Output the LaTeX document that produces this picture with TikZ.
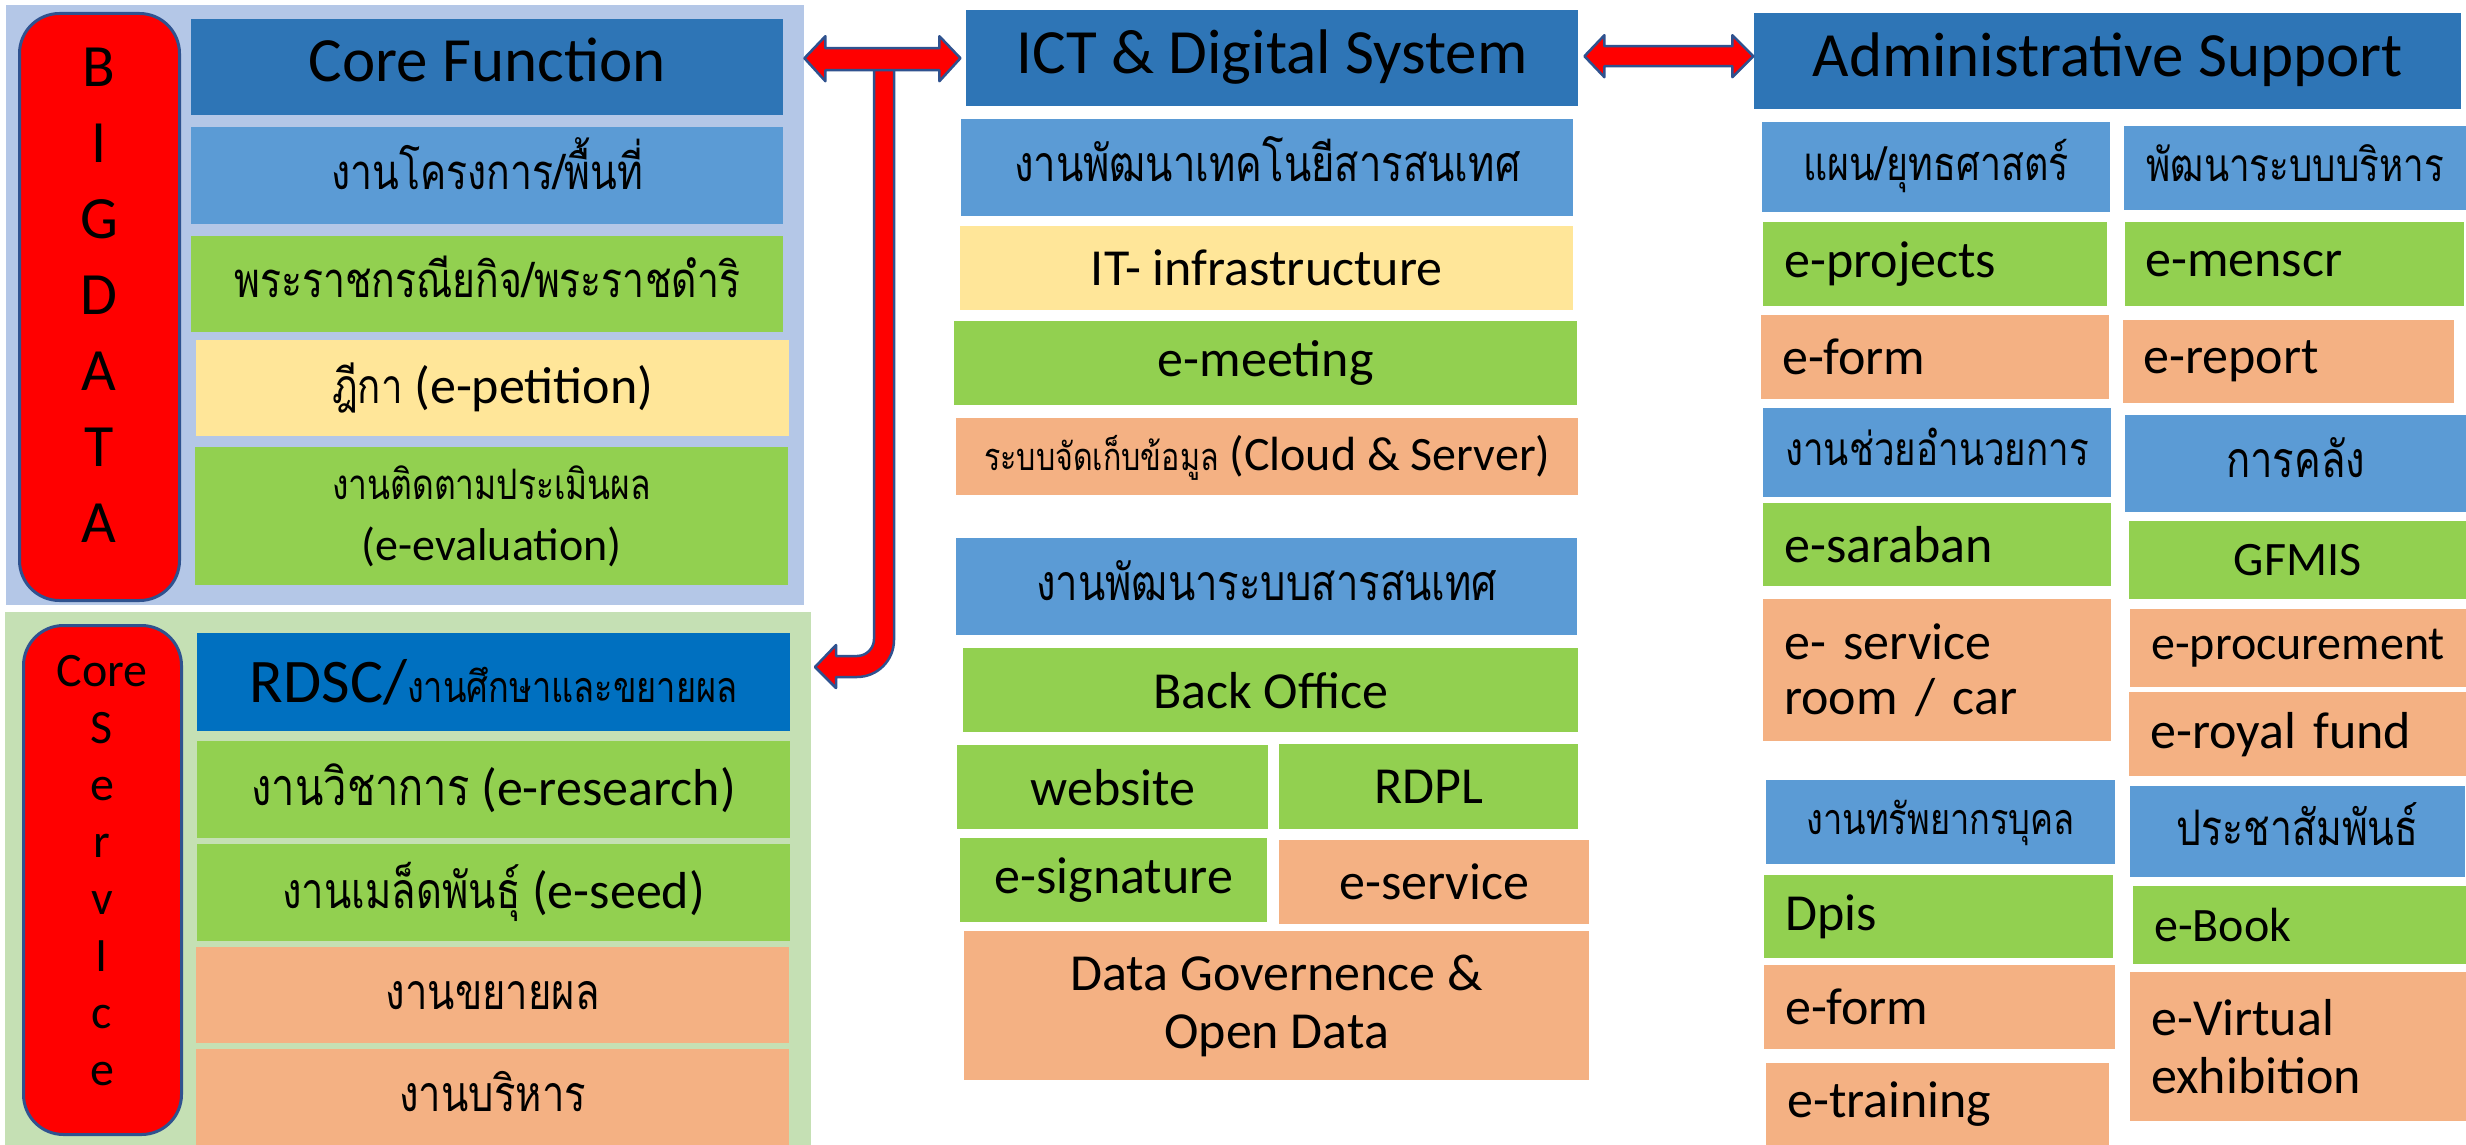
\documentclass[tikz,border=0pt]{standalone}
\usepackage{fontspec}
\setmainfont{Carlito}
\newfontfamily\thaifont[Script=Thai, FakeStretch=0.8]{Loma}
\usetikzlibrary{calc}

\definecolor{bgblue}{HTML}{B4C7E7}
\definecolor{bggreen}{HTML}{C5E0B4}
\definecolor{hdrblue}{HTML}{2E75B6}
\definecolor{subblue}{HTML}{5B9BD5}
\definecolor{rdscblue}{HTML}{0070C0}
\definecolor{cellgreen}{HTML}{92D050}
\definecolor{cellyellow}{HTML}{FFE699}
\definecolor{cellorange}{HTML}{F4B183}
\definecolor{edgeblue}{HTML}{2F528F}

% thai text, size in pt (= px here); marks do not count for centring
\newcommand{\thtxt}[2][50]{{\thaifont\fontsize{#1}{60}\selectfont\smash{#2}\vphantom{ก}}}

\tikzset{
  cell/.style={anchor=north west, inner sep=0pt, text=black, font=\fontsize{52}{60}\selectfont},
  panel/.style={anchor=north west, inner sep=0pt},
  hdr/.style={cell, fill=hdrblue, text depth=14pt, font=\fontsize{63}{75}\selectfont},
  sub/.style={cell, fill=subblue},
  grn/.style={cell, fill=cellgreen},
  ylw/.style={cell, fill=cellyellow},
  org/.style={cell, fill=cellorange},
  lft/.style={align=left, inner xsep=21pt},
  redbox/.style={panel, fill=red, draw=edgeblue, line width=3pt, rounded corners=40pt},
  blockarrow/.style={fill=red, draw=edgeblue, line width=2.5pt, line join=round},
}
\exhyphenpenalty=10000
\hyphenpenalty=10000

\begin{document}
\begin{tikzpicture}[x=1pt,y=-1pt]
  \useasboundingbox (0,0) rectangle (2466,1145);

  % left: core function
  \node[panel, fill=bgblue, minimum width=798, minimum height=600] (bgcore) at (6,5) {};
  \node[redbox, minimum width=160, minimum height=587] (bigdata) at (18,12) {};
  \node[font=\fontsize{60}{76}\selectfont, align=center] (bigdatatxt) at (99,295) {B\\I\\G\\D\\A\\T\\A};
  \node[hdr, minimum width=592, minimum height=96] (corefn) at (191,19) {Core Function};
  \node[sub, minimum width=592, minimum height=97] (proj) at (191,127) {\thtxt[49]{งานโครงการ/พื้นที่}};
  \node[grn, minimum width=592, minimum height=96] (royal) at (191,236) {\thtxt[49]{พระราชกรณียกิจ/พระราชดำริ}};
  \node[ylw, minimum width=593, minimum height=96] (petition) at (196,340) {\thtxt[48]{ฎีกา} (e-petition)};
  \node[grn, align=center, font=\fontsize{46}{61}\selectfont, minimum width=593, minimum height=138] (evalu) at (195,447)
    {{\thaifont\fontsize{42}{61}\selectfont งานติดตามประเมินผล}\\(e-evaluation)};

  % left: core service
  \node[panel, fill=bggreen, minimum width=806, minimum height=533] (bgserv) at (5,612) {};
  \node[redbox, minimum width=158, minimum height=509] (coreserv) at (22,624) {};
  \node[font=\fontsize{48}{57}\selectfont, align=center] (coreservtxt) at (102,871) {Core\\S\\e\\r\\v\\I\\c\\e};
  \node[cell, fill=rdscblue, minimum width=593, minimum height=98] (rdsc) at (197,633)
    {{\fontsize{62}{70}\selectfont RDSC/}\thtxt[43]{งานศึกษาและขยายผล}};
  \node[grn, minimum width=593, minimum height=97] (research) at (197,741) {\thtxt[52]{งานวิชาการ} (e-research)};
  \node[grn, minimum width=593, minimum height=97] (seed) at (197,844) {\thtxt{งานเมล็ดพันธุ์} (e-seed)};
  \node[org, minimum width=593, minimum height=96] (extend) at (196,947) {\thtxt{งานขยายผล}};
  \node[org, minimum width=593, minimum height=96] (manage) at (196,1049) {\thtxt{งานบริหาร}};

  % middle: ict
  \node[hdr, minimum width=612, minimum height=96] (ict) at (966,10) {ICT \& Digital System};
  \node[sub, minimum width=612, minimum height=97] (ittech) at (961,119) {\thtxt{งานพัฒนาเทคโนยีสารสนเทศ}};
  \node[ylw, minimum width=613, minimum height=84] (infra) at (960,226) {IT- infrastructure};
  \node[grn, minimum width=623, minimum height=84] (meet) at (954,321) {e-meeting};
  \node[org, minimum width=622, minimum height=77, font=\fontsize{48}{58}\selectfont] (cloud) at (956,418)
    {\thtxt[38]{ระบบจัดเก็บข้อมูล} (Cloud \& Server)};
  \node[sub, minimum width=621, minimum height=97] (infosys) at (956,538) {\thtxt{งานพัฒนาระบบสารสนเทศ}};
  \node[grn, minimum width=615, minimum height=84] (backoff) at (963,648) {Back Office};
  \node[grn, minimum width=311, minimum height=84] (web) at (957,745) {website};
  \node[grn, minimum width=299, minimum height=85] (rdpl) at (1279,744) {RDPL};
  \node[grn, minimum width=307, minimum height=84] (esig) at (960,838) {e-signature};
  \node[org, minimum width=310, minimum height=84] (eserv) at (1279,840) {e-service};
  \node[org, align=center, font=\fontsize{52}{58}\selectfont, minimum width=625, minimum height=149] (datagov) at (964,931)
    {Data Governence \&\\Open Data};

  % right: administrative support
  \node[hdr, minimum width=707, minimum height=96] (adm) at (1754,13) {Administrative Support};
  \node[sub, minimum width=348, minimum height=90] (plan) at (1762,122) {\thtxt[47]{แผน/ยุทธศาสตร์}};
  \node[grn, lft, text width=302pt, minimum height=84] (eproj) at (1763,222) {e-projects};
  \node[org, lft, text width=306pt, minimum height=84] (eform) at (1761,315) {e-form};
  \node[sub, minimum width=348, minimum height=89] (assist) at (1763,408) {\thtxt[46]{งานช่วยอำนวยการ}};
  \node[grn, lft, text width=306pt, minimum height=83] (sarab) at (1763,503) {e-saraban};
  \node[org, lft, text width=306pt, minimum height=142, font=\fontsize{52}{55}\selectfont] (roomcar) at (1763,599)
    {e- service\\room / car};
  \node[sub, minimum width=349, minimum height=84] (hr) at (1766,780) {\thtxt[43]{งานทรัพยากรบุคล}};
  \node[grn, lft, text width=307pt, minimum height=83] (dpis) at (1764,875) {Dpis};
  \node[org, lft, text width=309pt, minimum height=84] (eformb) at (1764,965) {e-form};
  \node[org, lft, text width=301pt, minimum height=82] (etrain) at (1766,1063) {e-training};

  \node[sub, minimum width=342, minimum height=84] (mgmt) at (2124,126) {\thtxt[46]{พัฒนาระบบบริหาร}};
  \node[grn, lft, text width=299pt, inner xsep=20pt, minimum height=84] (menscr) at (2125,222) {e-menscr};
  \node[org, lft, text width=291pt, inner xsep=20pt, minimum height=83] (report) at (2123,320) {e-report};
  \node[sub, minimum width=341, minimum height=97] (treas) at (2125,415) {\thtxt{การคลัง}};
  \node[grn, minimum width=337, minimum height=78, font=\fontsize{48}{58}\selectfont] (gfmis) at (2129,521) {GFMIS};
  \node[org, lft, text width=294pt, minimum height=78, font=\fontsize{48}{58}\selectfont] (procure) at (2130,609) {e-procurement};
  \node[org, lft, text width=295pt, minimum height=84] (rfund) at (2129,692) {e-royal fund};
  \node[sub, minimum width=335, minimum height=91] (pr) at (2130,786) {\thtxt[49]{ประชาสัมพันธ์}};
  \node[grn, lft, text width=291pt, minimum height=78, font=\fontsize{48}{58}\selectfont] (ebook) at (2133,886) {e-Book};
  \node[org, lft, text width=294pt, minimum height=149, font=\fontsize{52}{58}\selectfont] (virt) at (2130,972)
    {e-Virtual\\exhibition};

  % arrows
  \draw[blockarrow] (874,59) -- (874,639) arc[start angle=0, end angle=90, radius=17]
    -- (836,656) -- (836,645) -- (815,667) -- (836,688) -- (836,677) -- (857,677)
    arc[start angle=90, end angle=0, radius=37] -- (894,59) -- cycle;
  \draw[blockarrow] (bgcore.east |- ict.west) -- ++(21,-22) -- ++(0,12) -- ++(114,0) -- ++(0,-12) -- ++(21,22)
    -- ++(-21,23) -- ++(0,-11) -- ++(-114,0) -- ++(0,11) -- cycle;
  \draw[blockarrow] ([xshift=6pt,yshift=2pt]ict.east) -- ++(20,-21) -- ++(0,11) -- ++(128,0) -- ++(0,-11) -- ++(21,21)
    -- ++(-21,21) -- ++(0,-11) -- ++(-128,0) -- ++(0,11) -- cycle;
\end{tikzpicture}
\end{document}
